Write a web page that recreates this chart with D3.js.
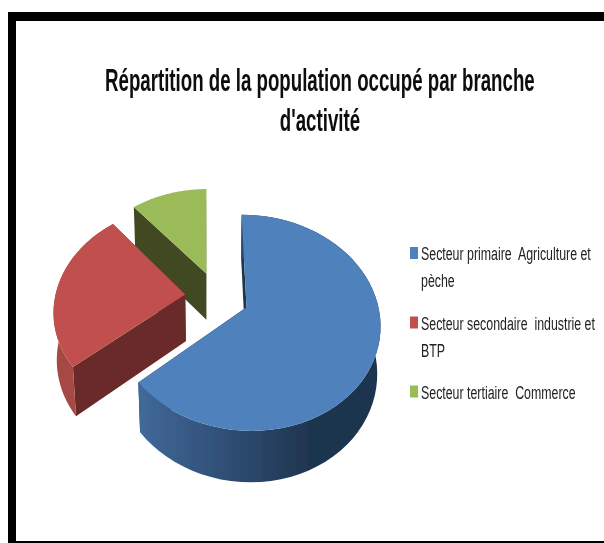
<!DOCTYPE html>
<html lang="fr">
<head>
  <meta charset="UTF-8">
  <title>Répartition de la population occupé par branche d'activité</title>
  <style>
    body { margin: 0; background: #fff; }
    svg { display: block; }
    text { font-family: "Liberation Sans", Arial, sans-serif; fill: #111; white-space: pre; }
    .title { font-size: 31px; font-weight: bold; }
    .legend { font-size: 19px; fill: #222; }
  </style>
</head>
<body>
  <svg id="chart" width="604" height="543"></svg>
  <script src="https://d3js.org/d3.v7.min.js"></script>
  <script>
    const titleLines = ["Répartition de la population occupé par branche", "d'activité"];
    const categories = ["Secteur primaire  Agriculture et pèche", "Secteur secondaire  industrie et BTP", "Secteur tertiaire  Commerce"];
    const legendLines = [["Secteur primaire  Agriculture et", "pèche"], ["Secteur secondaire  industrie et", "BTP"], ["Secteur tertiaire  Commerce"]];
    const values = [64, 25, 11];
    const topColors = ["#4f81bd", "#c0504d", "#9bbb59"];
    const sideColors = ["#1f3550", "#6a2a2a", "#3f4a20"];

    const svg = d3.select("#chart");
    const defs = svg.append("defs");
    defs.append("filter").attr("id", "soft")
      .append("feGaussianBlur").attr("stdDeviation", 0.45);

    // frame, open on the right
    svg.append("rect").attr("x", 8).attr("y", 12).attr("width", 600).attr("height", 540).attr("fill", "#000");
    svg.append("rect").attr("x", 16).attr("y", 21).attr("width", 590).attr("height", 520).attr("fill", "#fff");

    // narrow a text line so it fills the wanted width (no condensed font here)
    function squeeze(sel, x, y, width) {
      const len = sel.node().getComputedTextLength();
      const k = width / len;
      sel.attr("transform", `translate(${x - width / 2},${y}) scale(${k},1)`);
      return k;
    }

    const titleG = svg.append("g").attr("filter", "url(#soft)");
    const titleY = [91, 131];
    const t0 = titleG.append("text").attr("class", "title").text(titleLines[0]);
    const titleK = squeeze(t0, 320, titleY[0], 430);
    const t1 = titleG.append("text").attr("class", "title").text(titleLines[1]);
    squeeze(t1, 320, titleY[1], t1.node().getComputedTextLength() * titleK);

    // 3d pie: flat pie angles from d3, then projected with a small perspective
    const R = 130, explode = 32, depth = 47;
    const cx = 217, cy = 296.5, tilt = 0.79, persp = 0.0011, drop = 0.02;

    const pie = d3.pie().sort(null).startAngle(-0.01)
      .endAngle(2 * Math.PI - 0.01);
    const slices = pie(values);

    function project(X, Y, low) {
      const w = 1 / (1 + persp * Y + (low ? drop : 0));
      const w0 = 1 / (1 + persp * Y);
      return [cx + X * w, cy - tilt * Y * w0 + (low ? depth * (0.5 + 0.5 * w0) : 0)];
    }

    function slicePoints(d) {
      const mid = (d.startAngle + d.endAngle) / 2;
      const ox = explode * Math.sin(mid), oy = explode * Math.cos(mid);
      const rim = d3.range(0, 61).map(i => {
        const a = d.startAngle + (d.endAngle - d.startAngle) * i / 60;
        return [ox + R * Math.sin(a), oy + R * Math.cos(a)];
      });
      return { apex: [ox, oy], rim };
    }

    const line = d3.line();
    const grad = defs.append("linearGradient").attr("id", "blueSide")
      .attr("gradientUnits", "userSpaceOnUse")
      .attr("x1", 137).attr("x2", 310).attr("y1", 0).attr("y2", 0);
    grad.append("stop").attr("offset", 0).attr("stop-color", "#41699b");
    grad.append("stop").attr("offset", 1).attr("stop-color", "#1f3550");

    // the green slice shows no rim, it faces away
    const outerFill = ["url(#blueSide)", "#a64845", null];

    const pieG = svg.append("g").attr("filter", "url(#soft)");

    // back to front: green, red, blue
    [2, 1, 0].forEach(i => {
      const s = slicePoints(slices[i]);
      const g = pieG.append("g");
      const top = p => project(p[0], p[1], false);
      const low = p => project(p[0], p[1], true);
      const first = s.rim[0], last = s.rim[s.rim.length - 1];

      [first, last].forEach(p => {
        g.append("path")
          .attr("d", line([top(s.apex), top(p), low(p), low(s.apex)]) + "Z")
          .attr("fill", sideColors[i]);
      });
      if (outerFill[i]) {
        g.append("path")
          .attr("d", line(s.rim.map(top).concat(s.rim.map(low).reverse())) + "Z")
          .attr("fill", outerFill[i]);
      }
      g.append("path")
        .attr("d", line([top(s.apex)].concat(s.rim.map(top))) + "Z")
        .attr("fill", topColors[i]);
    });

    // legend
    const legendY = [253, 322.5, 391.5];
    const legend = svg.selectAll(".leg").data(categories).join("g").attr("class", "leg")
      .attr("filter", "url(#soft)");
    legend.append("rect")
      .attr("x", 410).attr("y", (d, i) => legendY[i] - 6)
      .attr("width", 8).attr("height", 12)
      .attr("fill", (d, i) => topColors[i]);

    const legendG = svg.append("g").attr("filter", "url(#soft)");
    const probe = legendG.append("text").attr("class", "legend").text(legendLines[0][0]);
    const legendK = 170 / probe.node().getComputedTextLength();
    probe.remove();
    legendLines.forEach((lines, i) => {
      lines.forEach((t, j) => {
        legendG.append("text").attr("class", "legend")
          .attr("transform", `translate(421,${legendY[i] + 7 + j * 27}) scale(${legendK},1)`)
          .text(t);
      });
    });
  </script>
</body>
</html>
